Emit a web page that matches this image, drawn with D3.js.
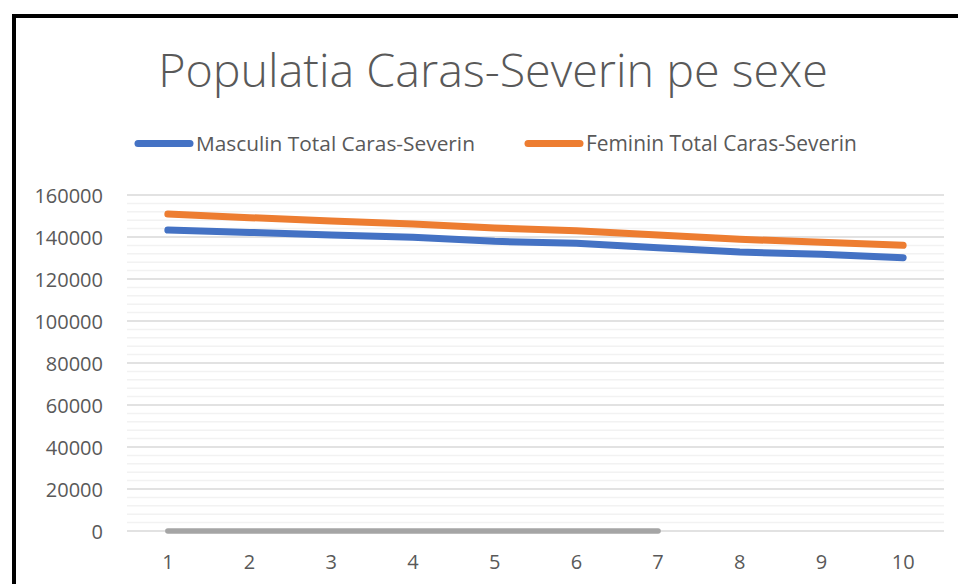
<!DOCTYPE html>
<html>
<head>
<meta charset="utf-8">
<script src="https://cdn.jsdelivr.net/npm/d3@7"></script>
<style>
  html, body { margin: 0; padding: 0; background: #fff; }
  svg { display: block; }
  text { font-family: "Open Sans", "Noto Sans", sans-serif; fill: #595959; }
</style>
</head>
<body>
<svg id="chart" width="958" height="584"></svg>
<script>
// ---- data ----
const categories = [1, 2, 3, 4, 5, 6, 7, 8, 9, 10];
const masculin = [143300, 142200, 140950, 139850, 137950, 137000, 134900, 132850, 131750, 130150];
const feminin  = [150950, 149200, 147600, 146200, 144300, 143000, 140950, 138900, 137500, 136050];
const zeroSeries = [0, 0, 0, 0, 0, 0, 0];
const seriesNames = ["Masculin Total Caras-Severin", "Feminin Total Caras-Severin"];
const yTicks = [0, 20000, 40000, 60000, 80000, 100000, 120000, 140000, 160000];
const titleText = "Populatia Caras-Severin pe sexe";

const svg = d3.select("#chart");
const W = 958, H = 584;

// chart frame (black border, cropped on the right/bottom)
svg.append("rect").attr("x", 14).attr("y", 16).attr("width", 1000).attr("height", 1000)
  .attr("fill", "#fff").attr("stroke", "#000").attr("stroke-width", 4);

const plot = { left: 127, right: 944, top: 195, bottom: 531 };

const x = d3.scaleBand().domain(categories).range([plot.left, plot.right]).padding(0);
const y = d3.scaleLinear().domain([0, 160000]).range([plot.bottom, plot.top]);
const cx = d => x(d) + x.bandwidth() / 2;

// minor gridlines
const minorTicks = d3.range(0, 160001, 4000).filter(v => v % 20000 !== 0);
svg.append("g").selectAll("line").data(minorTicks).join("line")
  .attr("x1", plot.left).attr("x2", plot.right)
  .attr("y1", d => y(d)).attr("y2", d => y(d))
  .attr("stroke", "#f2f2f2").attr("stroke-width", 1.5);

// major gridlines
svg.append("g").selectAll("line").data(yTicks).join("line")
  .attr("x1", plot.left).attr("x2", plot.right)
  .attr("y1", d => y(d)).attr("y2", d => y(d))
  .attr("stroke", "#d9d9d9").attr("stroke-width", 1.5);

// y axis labels
const yAxis = d3.axisLeft(y).tickValues(yTicks).tickSize(0).tickPadding(0).tickFormat(d3.format("d"));
const gy = svg.append("g").attr("transform", `translate(103,0)`).call(yAxis);
gy.select(".domain").remove();
gy.selectAll("text").attr("font-size", 20).attr("fill", "#595959")
  .style("font-family", '"Open Sans", sans-serif').attr("dy", "0.36em");

// x axis labels
const xAxis = d3.axisBottom(x).tickSize(0).tickPadding(0);
const gx = svg.append("g").attr("transform", `translate(0,${plot.bottom})`).call(xAxis);
gx.select(".domain").remove();
gx.selectAll("text").attr("font-size", 20).attr("fill", "#595959")
  .style("font-family", '"Open Sans", sans-serif').attr("y", 38).attr("dy", 0);

// lines
const line = d3.line().x((d, i) => cx(categories[i])).y(d => y(d));
const series = [
  { values: zeroSeries, color: "#a5a5a5", width: 5.5 },
  { values: masculin, color: "#4472c4", width: 7 },
  { values: feminin, color: "#ed7d31", width: 7 }
];
svg.append("g").selectAll("path").data(series).join("path")
  .attr("d", d => line(d.values))
  .attr("fill", "none").attr("stroke", d => d.color).attr("stroke-width", d => d.width)
  .attr("stroke-linecap", "round").attr("stroke-linejoin", "round");

// helper to fit text to width
function fit(sel, target) {
  const w = sel.node().getComputedTextLength();
  const fs = parseFloat(sel.attr("font-size"));
  sel.attr("font-size", fs * target / w);
}

// title
const title = svg.append("text").attr("x", 493).attr("y", 87).attr("text-anchor", "middle")
  .attr("font-size", 46).attr("font-weight", 300).attr("fill", "#595959").text(titleText);
fit(title, 670);

// legend
const legend = [
  { name: seriesNames[0], color: "#4472c4", x1: 138, x2: 190, tx: 196, tw: 279 },
  { name: seriesNames[1], color: "#ed7d31", x1: 528, x2: 580, tx: 586, tw: 271 }
];
legend.forEach(l => {
  svg.append("line").attr("x1", l.x1).attr("x2", l.x2).attr("y1", 143.5).attr("y2", 143.5)
    .attr("stroke", l.color).attr("stroke-width", 7).attr("stroke-linecap", "round");
  const t = svg.append("text").attr("x", l.tx).attr("y", 151).attr("font-size", 20)
    .attr("fill", "#595959").text(l.name);
  fit(t, l.tw);
});
</script>
</body>
</html>
